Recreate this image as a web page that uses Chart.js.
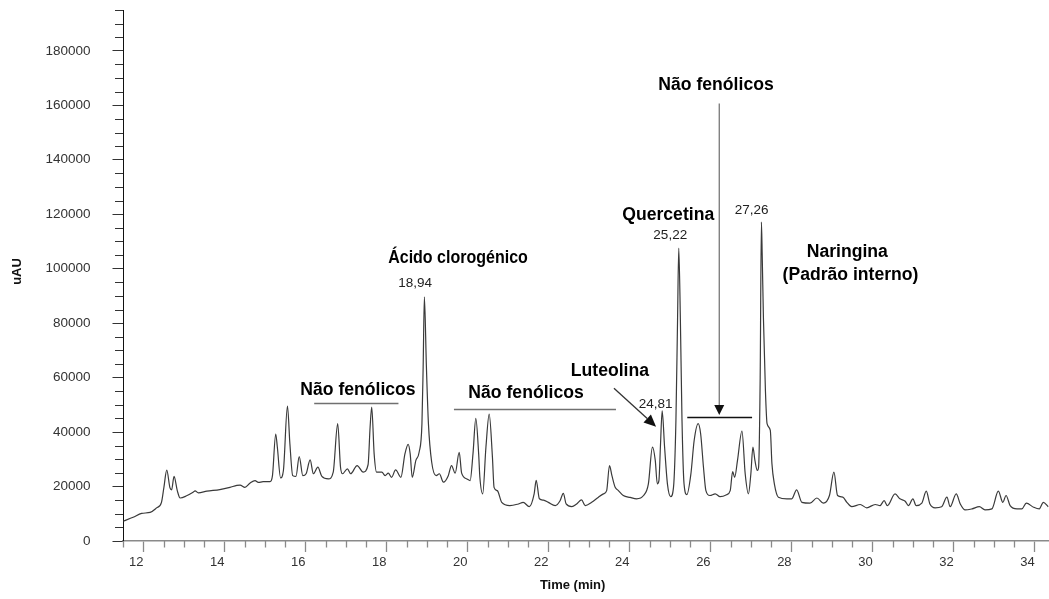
<!DOCTYPE html>
<html>
<head>
<meta charset="utf-8">
<script src="https://cdn.jsdelivr.net/npm/chart.js@4.4.1/dist/chart.umd.min.js"></script>
<style>
  html, body { margin: 0; padding: 0; background: #ffffff; }
  canvas { display: block; }
</style>
</head>
<body>
<canvas id="chromatogram" width="1049" height="599"></canvas>
<script>
// Retention time (min) of each sampled point of the trace
const retentionTime = [
  11.51, 11.75, 11.96, 12.17, 12.33, 12.45, 12.51, 12.58, 12.66, 12.70, 12.76, 12.84, 12.91,
  13.07, 13.23, 13.28, 13.36, 13.57, 13.89, 14.14, 14.31, 14.39, 14.51, 14.63, 14.76, 14.84,
  14.96, 15.13, 15.19, 15.27, 15.31, 15.39, 15.46, 15.56, 15.62, 15.69, 15.77, 15.85, 15.94,
  16.02, 16.12, 16.20, 16.31, 16.41, 16.57, 16.69, 16.80, 16.87, 16.92, 17.04, 17.12, 17.28,
  17.43, 17.55, 17.60, 17.64, 17.70, 17.76, 17.89, 17.97, 18.05, 18.13, 18.23, 18.36, 18.46,
  18.54, 18.59, 18.64, 18.73, 18.81, 18.88, 18.91, 18.94, 18.99, 19.04, 19.12, 19.23, 19.31,
  19.41, 19.53, 19.61, 19.70, 19.80, 19.86, 19.99, 20.07, 20.14, 20.21, 20.28, 20.31, 20.38,
  20.46, 20.54, 20.62, 20.66, 20.74, 20.85, 21.05, 21.26, 21.38, 21.53, 21.65, 21.70, 21.78,
  21.88, 22.00, 22.17, 22.29, 22.37, 22.44, 22.58, 22.70, 22.82, 22.91, 23.07, 23.23, 23.36,
  23.44, 23.51, 23.57, 23.65, 23.73, 23.85, 24.02, 24.18, 24.35, 24.47, 24.57, 24.64, 24.69,
  24.73, 24.77, 24.81, 24.87, 24.94, 25.02, 25.09, 25.15, 25.19, 25.22, 25.26, 25.30, 25.35,
  25.42, 25.52, 25.60, 25.70, 25.76, 25.83, 25.89, 25.99, 26.12, 26.24, 26.40, 26.49, 26.55,
  26.60, 26.67, 26.78, 26.86, 26.94, 27.00, 27.05, 27.10, 27.16, 27.19, 27.23, 27.26, 27.28,
  27.31, 27.36, 27.40, 27.48, 27.52, 27.58, 27.68, 27.89, 28.01, 28.13, 28.26, 28.46, 28.63,
  28.79, 28.94, 29.05, 29.14, 29.27, 29.37, 29.49, 29.70, 29.86, 30.07, 30.19, 30.29, 30.37,
  30.56, 30.68, 30.81, 30.89, 31.00, 31.08, 31.22, 31.33, 31.42, 31.55, 31.71, 31.84, 31.92,
  32.07, 32.17, 32.29, 32.46, 32.64, 32.78, 32.95, 33.11, 33.22, 33.30, 33.40, 33.57, 33.69,
  33.80, 33.98, 34.12, 34.22, 34.34
];

// Detector response (uAU) at each retention time
const absorbance = [
  7300, 8700, 10150, 10500, 12150, 14200, 19700, 26000, 19500, 18800, 23700, 18500, 15800,
  16600, 17900, 18400, 17700, 18300, 18900, 19700, 20400, 20500, 19700, 21200, 22200, 21500,
  21800, 21800, 24000, 39300, 34500, 23200, 25900, 49500, 35700, 24000, 23700, 31000, 24000,
  24700, 29800, 24700, 27100, 23700, 22800, 25300, 43100, 27100, 24700, 26500, 24700, 27700,
  25300, 28000, 41800, 49200, 32000, 25300, 25300, 24000, 24900, 23400, 26100, 23400, 32000,
  35500, 32000, 23400, 29600, 32600, 43100, 64000, 89700, 64000, 43100, 29000, 24000, 24700,
  21600, 24000, 27700, 24900, 32600, 24900, 22800, 22200, 32000, 45000, 32000, 23400, 17300,
  34500, 46600, 30800, 19700, 18500, 14200, 13000, 13600, 14200, 12600, 17300, 22300, 15500,
  15000, 14200, 13000, 14800, 17500, 13600, 12600, 13600, 15100, 13000, 14200, 16000, 17300,
  18500, 27700, 24000, 19700, 18500, 16700, 16000, 15500, 16700, 21000, 34500, 29600, 21000,
  22200, 35700, 47800, 34500, 21000, 16300, 19700, 44300, 81100, 107600, 81100, 44300, 21000,
  17000, 24700, 36900, 43100, 39400, 27100, 18500, 16700, 17300, 16300, 17000, 18500, 25500,
  23400, 29600, 40400, 24700, 17300, 24700, 34500, 29600, 25900, 27000, 60000, 117100, 105000,
  82000, 55000, 43100, 40600, 28400, 21000, 16100, 15500, 15500, 18800, 14200, 13900, 15800,
  13900, 16700, 25300, 16700, 16100, 14200, 12600, 13400, 12200, 13400, 13000, 14800, 13000,
  17300, 15500, 14600, 13000, 15500, 13000, 13900, 18300, 13600, 12200, 12600, 16100, 12600,
  17300, 13600, 11400, 11800, 12600, 11400, 11800, 18300, 14200, 16700, 13000, 11800, 11800,
  13900, 12400, 11800, 14200, 12600
];

// Axis tick values
const timeTicks = [12, 14, 16, 18, 20, 22, 24, 26, 28, 30, 32, 34];
const signalTicks = [0, 20000, 40000, 60000, 80000, 100000, 120000, 140000, 160000, 180000];

// Retention times printed above the identified peaks
const labelledPeaks = [18.94, 24.81, 25.22, 27.26];

const TIME_MIN = 11.5, TIME_MAX = 34.36;
const SIGNAL_MIN = 0, SIGNAL_MAX = 195000;

const FAMILY = 'Arial, "Liberation Sans", sans-serif';
const NUM = '13.5px ' + FAMILY;

function fmtTime(t) { return t.toFixed(2).replace('.', ','); }

// Compound names, placed in data coordinates (squeeze = horizontal text scale)
const compoundNotes = [
  { text: 'Ácido clorogénico', t: 19.77, v: 103900, squeeze: 0.91 },
  { text: 'Não fenólicos', t: 17.30, v: 55400, squeeze: 1 },
  { text: 'Não fenólicos', t: 21.45, v: 54200, squeeze: 1 },
  { text: 'Luteolina', t: 23.52, v: 62200, squeeze: 1 },
  { text: 'Quercetina', t: 24.96, v: 119700, squeeze: 1 },
  { text: 'Não fenólicos', t: 26.14, v: 167400, squeeze: 1 },
  { text: 'Naringina', t: 29.38, v: 105900, squeeze: 1 },
  { text: '(Padrão interno)', t: 29.46, v: 97700, squeeze: 1 }
];
// [shift in minutes, lift in px] of each retention-time tag relative to its peak apex
const tagPlacement = { 18.94: [-0.23, 13], 24.81: [-0.16, 7], 25.22: [-0.21, 13], 27.26: [-0.24, 12] };

const annotate = {
  id: 'annotate',
  afterDraw(chart) {
    const { ctx, chartArea: area, scales: { x, y } } = chart;
    const X = t => x.getPixelForValue(t);
    const Y = v => y.getPixelForValue(v);
    ctx.save();

    // minor ticks
    ctx.lineWidth = 1.3;
    ctx.strokeStyle = '#8a8a8a';
    ctx.beginPath();
    for (let t = TIME_MIN; t <= TIME_MAX + 1e-9; t += 0.5) {
      if (Math.abs(t / 2 - Math.round(t / 2)) < 1e-6) continue;
      const px = Math.round(X(t)) + 0.5;
      ctx.moveTo(px, area.bottom);
      ctx.lineTo(px, area.bottom + 6.5);
    }
    ctx.stroke();
    ctx.lineWidth = 1;
    ctx.strokeStyle = '#333';
    ctx.beginPath();
    for (let v = SIGNAL_MIN; v <= SIGNAL_MAX; v += 5000) {
      if (v % 20000 === 0) continue;
      const py = Math.round(Y(v)) + 0.5;
      ctx.moveTo(area.left - 8, py);
      ctx.lineTo(area.left, py);
    }
    ctx.stroke();

    // axis titles
    ctx.fillStyle = '#111';
    ctx.font = 'bold 13px ' + FAMILY;
    ctx.textAlign = 'center';
    ctx.textBaseline = 'middle';
    ctx.fillText('Time (min)', X(22.6), area.bottom + 44);
    ctx.save();
    ctx.translate(17, (area.top + area.bottom) / 2 - 4);
    ctx.rotate(-Math.PI / 2);
    ctx.fillText('uAU', 0, 0);
    ctx.restore();

    // compound names
    ctx.fillStyle = '#000';
    ctx.font = 'bold 17.6px ' + FAMILY;
    compoundNotes.forEach(n => {
      ctx.save();
      ctx.translate(X(n.t), Y(n.v));
      ctx.scale(n.squeeze, 1);
      ctx.fillText(n.text, 0, 0);
      ctx.restore();
    });

    // retention time tags above peaks
    ctx.font = NUM;
    ctx.fillStyle = '#222';
    labelledPeaks.forEach(t => {
      const i = retentionTime.indexOf(t);
      const [dt, lift] = tagPlacement[t];
      ctx.fillText(fmtTime(t), X(t + dt), Y(absorbance[i]) - lift);
    });

    // brackets under "Não fenólicos"
    const hline = (t0, t1, v, color) => {
      ctx.strokeStyle = color;
      ctx.lineWidth = 1.3;
      ctx.beginPath();
      ctx.moveTo(X(t0), Math.round(Y(v)) + 0.5);
      ctx.lineTo(X(t1), Math.round(Y(v)) + 0.5);
      ctx.stroke();
    };
    hline(16.22, 18.30, 50800, '#707070');
    hline(19.67, 23.67, 48400, '#707070');
    hline(25.43, 27.03, 45400, '#111');

    // arrows
    const arrow = (t0, v0, t1, v1, lineColor, len, half) => {
      const x0 = X(t0), y0 = Y(v0), x1 = X(t1), y1 = Y(v1);
      const ang = Math.atan2(y1 - y0, x1 - x0);
      const bx = x1 - len * Math.cos(ang), by = y1 - len * Math.sin(ang);
      ctx.strokeStyle = lineColor;
      ctx.lineWidth = 1.3;
      ctx.beginPath();
      ctx.moveTo(x0, y0);
      ctx.lineTo(bx, by);
      ctx.stroke();
      ctx.fillStyle = '#111';
      ctx.beginPath();
      ctx.moveTo(x1, y1);
      ctx.lineTo(bx + half * Math.sin(ang), by - half * Math.cos(ang));
      ctx.lineTo(bx - half * Math.sin(ang), by + half * Math.cos(ang));
      ctx.closePath();
      ctx.fill();
    };
    arrow(23.62, 56100, 24.66, 42000, '#333', 12, 5.5);
    arrow(26.22, 160700, 26.22, 46300, '#777', 10, 5);

    ctx.restore();
  }
};

new Chart(document.getElementById('chromatogram'), {
  type: 'line',
  data: {
    datasets: [{
      data: retentionTime.map((t, i) => ({ x: t, y: absorbance[i] })),
      borderColor: '#3a3a3a',
      borderWidth: 1.2,
      pointRadius: 0,
      cubicInterpolationMode: 'monotone',
      fill: false
    }]
  },
  options: {
    responsive: false,
    animation: false,
    devicePixelRatio: 1,
    layout: { padding: { top: 10, right: 0, bottom: 0, left: 0 } },
    plugins: { legend: { display: false }, tooltip: { enabled: false } },
    scales: {
      x: {
        type: 'linear',
        min: TIME_MIN,
        max: TIME_MAX,
        afterBuildTicks: s => { s.ticks = timeTicks.map(v => ({ value: v })); },
        afterFit: s => { s.height = 58; s.paddingLeft = 0; s.paddingRight = 0; },
        grid: { drawOnChartArea: false, drawTicks: true, tickLength: 11, tickColor: '#8a8a8a', tickWidth: 1.3 },
        border: { display: true, color: '#8a8a8a', width: 1.6 },
        ticks: {
          font: { family: FAMILY, size: 13 },
          color: '#333',
          labelOffset: -7,
          padding: 3,
          maxRotation: 0,
          autoSkip: false,
          callback: v => String(v)
        }
      },
      y: {
        type: 'linear',
        min: SIGNAL_MIN,
        max: SIGNAL_MAX,
        afterBuildTicks: s => { s.ticks = signalTicks.map(v => ({ value: v })); },
        afterFit: s => { s.width = 123; s.paddingTop = 0; s.paddingBottom = 0; },
        grid: { drawOnChartArea: false, drawTicks: true, tickLength: 10.5, tickColor: '#333', tickWidth: 1 },
        border: { display: true, color: '#111', width: 1 },
        ticks: {
          font: { family: FAMILY, size: 13.5 },
          color: '#333',
          padding: 22,
          autoSkip: false,
          callback: v => String(v)
        }
      }
    }
  },
  plugins: [annotate]
});
</script>
</body>
</html>
